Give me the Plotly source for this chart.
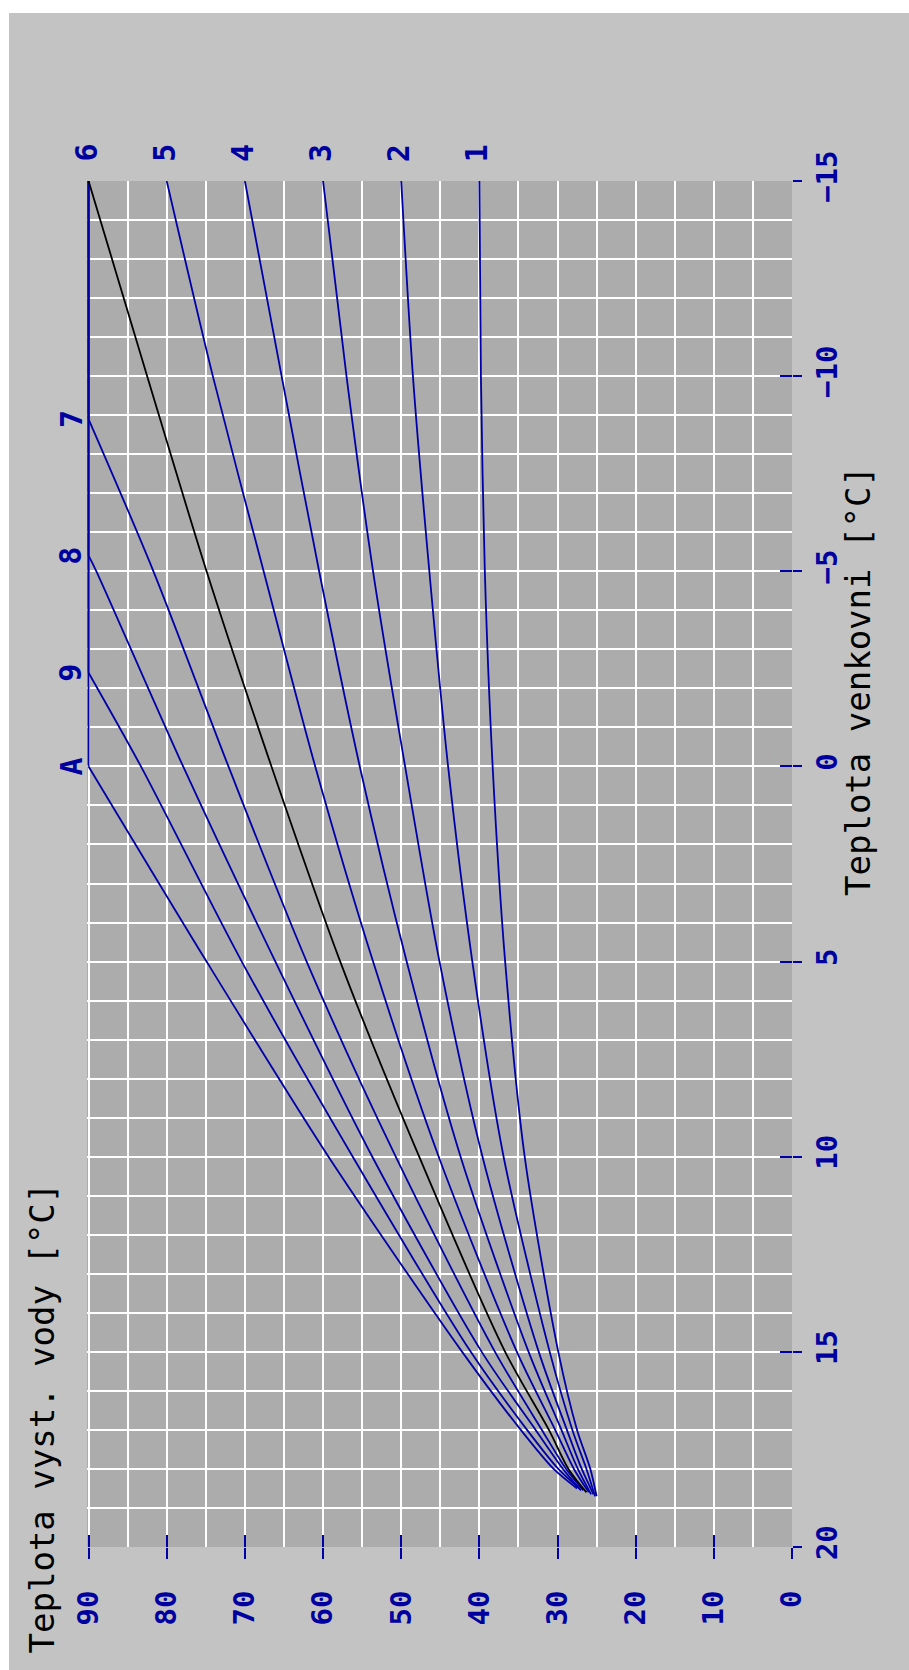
import plotly.graph_objects as go

# ---- data (outdoor temp -> flow water temp) ----
outdoor_c1 = [-15, -10, -5, 0, 5, 10, 15, 17, 18, 18.7]
water_c1 = [40, 39.8, 39.3, 38.3, 36.7, 34.2, 29.9, 27.5, 25.8, 25.0]

outdoor_c2 = [-15, -10, -5, 0, 5, 10, 15, 17, 18, 18.7]
water_c2 = [50, 48.5, 46.4, 44.0, 40.9, 36.9, 31.0, 28.1, 26.3, 25.2]

outdoor_c3 = [-15, -10, -5, 0, 5, 10, 15, 17, 18, 18.65]
water_c3 = [60, 57.0, 53.6, 49.5, 45.1, 39.6, 32.4, 28.8, 26.9, 25.4]

outdoor_c4 = [-15, -10, -5, 0, 5, 10, 15, 17, 18, 18.65]
water_c4 = [70, 65.3, 60.5, 55.3, 49.3, 42.4, 33.7, 29.5, 27.4, 25.7]

outdoor_c5 = [-15, -10, -5, 0, 5, 10, 15, 17, 18, 18.6]
water_c5 = [80, 74.1, 67.6, 61.0, 53.6, 45.2, 35.2, 30.3, 27.9, 26.0]

outdoor_c6 = [-15, -10, -5, 0, 5, 10, 15, 17, 18, 18.6]
water_c6 = [90, 82.5, 74.9, 66.6, 57.8, 47.7, 36.7, 31.1, 28.6, 26.3]

outdoor_c7 = [-15, -8.9, -5, 0, 5, 10, 15, 17, 18, 18.55]
water_c7 = [90, 90, 81.7, 72.1, 62.1, 50.7, 38.0, 32.0, 28.9, 26.7]

outdoor_c8 = [-15, -5.4, -5, 0, 5, 10, 15, 17, 18, 18.55]
water_c8 = [90, 90, 89.0, 77.9, 66.1, 53.7, 39.7, 32.8, 29.3, 27.0]

outdoor_c9 = [-15, -2.4, 0, 5, 10, 15, 17, 18, 18.5]
water_c9 = [90, 90, 83.3, 70.4, 56.2, 41.1, 33.9, 29.9, 27.2]

outdoor_cA = [-15, 0, 5, 10, 15, 17, 18, 18.5]
water_cA = [90, 90, 74.9, 59.3, 42.2, 34.7, 30.5, 27.5]

top_labels = ["6", "5", "4", "3", "2", "1"]
top_label_water = [90, 80, 70, 60, 50, 40]
side_labels = ["7", "8", "9", "A"]
side_label_outdoor = [-8.9, -5.4, -2.4, 0]

water_ticks = [0, 10, 20, 30, 40, 50, 60, 70, 80, 90]
outdoor_ticks = [-15, -10, -5, 0, 5, 10, 15, 20]

title_water = "Teplota vyst. vody [°C]"
title_outdoor = "Teplota venkovni [°C]"

# ---- styling ----
W, H = 909, 1670
ML, MR, MT, MB = 87, 117, 181, 123
PW = W - ML - MR
PH = H - MT - MB


def px_x(px):
    return (px - ML) / PW


def px_y(py):
    return (H - MB - py) / PH


BLUE = "#0000a8"
TXT_BLUE = "#0000a0"
OUTER = "#c3c3c3"
INNER = "#acacac"
MONO = "DejaVu Sans Mono"

fig = go.Figure()

curves = [
    (outdoor_cA, water_cA, BLUE),
    (outdoor_c9, water_c9, BLUE),
    (outdoor_c8, water_c8, BLUE),
    (outdoor_c7, water_c7, BLUE),
    (outdoor_c5, water_c5, BLUE),
    (outdoor_c4, water_c4, BLUE),
    (outdoor_c3, water_c3, BLUE),
    (outdoor_c2, water_c2, BLUE),
    (outdoor_c1, water_c1, BLUE),
    (outdoor_c6, water_c6, "#000000"),
]
for o, w, c in curves:
    # flat (clamped at 90) part drawn straight, sloped part smoothed
    k = 0
    while k + 1 < len(w) and w[k + 1] == w[0]:
        k += 1
    if k > 0:
        fig.add_trace(go.Scatter(x=w[:k + 1], y=o[:k + 1], mode="lines",
                                 line=dict(color=BLUE, width=1.8),
                                 showlegend=False, hoverinfo="skip"))
    fig.add_trace(go.Scatter(x=w[k:], y=o[k:], mode="lines",
                             line=dict(color=c, width=1.8, shape="spline",
                                       smoothing=0.8),
                             showlegend=False, hoverinfo="skip"))

# dummy trace for overlay axes (inside tick halves)
fig.add_trace(go.Scatter(x=[None], y=[None], xaxis="x2", yaxis="y2",
                         showlegend=False, hoverinfo="skip"))

tickfont = dict(family=MONO, size=29, color=TXT_BLUE, weight="bold")

fig.update_layout(
    width=W, height=H,
    margin=dict(l=ML, r=MR, t=MT, b=MB, pad=0),
    paper_bgcolor=OUTER,
    plot_bgcolor=INNER,
    showlegend=False,
    xaxis=dict(
        range=[90.2, 0], tickvals=water_ticks, ticks="outside", ticklen=11,
        tickwidth=2, tickcolor=BLUE, tickangle=-90, tickfont=tickfont,
        ticklabelstandoff=20,
        showgrid=True, gridcolor="white", gridwidth=2,
        minor=dict(dtick=5, tick0=0, showgrid=True, gridcolor="white", gridwidth=2),
        showline=False, zeroline=False, fixedrange=True,
    ),
    yaxis=dict(
        range=[20, -15], tickvals=outdoor_ticks, ticks="outside", ticklen=9,
        tickwidth=2, tickcolor=BLUE, side="right", tickangle=-90,
        tickfont=tickfont, ticklabelstandoff=0,
        showgrid=True, gridcolor="white", gridwidth=2,
        minor=dict(dtick=1, tick0=0, showgrid=True, gridcolor="white", gridwidth=2),
        showline=False, zeroline=False, fixedrange=True,
    ),
    xaxis2=dict(
        range=[90.2, 0], overlaying="x", anchor="y", side="bottom",
        tickvals=water_ticks, ticks="inside", ticklen=12, tickwidth=2,
        tickcolor=BLUE, showticklabels=False, showgrid=False,
        zeroline=False, showline=False, fixedrange=True,
    ),
    yaxis2=dict(
        range=[20, -15], overlaying="y", anchor="x", side="right",
        tickvals=outdoor_ticks, ticks="inside", ticklen=12, tickwidth=2,
        tickcolor=BLUE, showticklabels=False, showgrid=False,
        zeroline=False, showline=False, fixedrange=True,
    ),
)

# white border strips (top and left)
fig.add_shape(type="rect", xref="paper", yref="paper", layer="below",
              x0=px_x(-5), x1=px_x(W + 5), y0=px_y(13), y1=px_y(-5),
              fillcolor="white", line=dict(width=0))
fig.add_shape(type="rect", xref="paper", yref="paper", layer="below",
              x0=px_x(-5), x1=px_x(9), y0=px_y(H + 5), y1=px_y(-5),
              fillcolor="white", line=dict(width=0))

labfont = dict(family=MONO, size=30, color=TXT_BLUE, weight="bold")
for t, w in zip(top_labels, top_label_water):
    fig.add_annotation(text=t, x=w, xref="x", y=px_y(153), yref="paper",
                       xanchor="center", yanchor="middle",
                       textangle=-90, showarrow=False, font=labfont,
                       xshift=-3)
for t, o in zip(side_labels, side_label_outdoor):
    fig.add_annotation(text=t, x=px_x(71), xref="paper", y=o, yref="y",
                       xanchor="center", yanchor="middle",
                       textangle=-90, showarrow=False, font=labfont)

titlefont = dict(family=MONO, size=34, color="#000000")
fig.add_annotation(text=title_water, x=px_x(42), xref="paper",
                   y=px_y(1656), yref="paper", yanchor="bottom",
                   xanchor="center", textangle=-90, showarrow=False,
                   font=titlefont)
fig.add_annotation(text=title_outdoor, x=px_x(858), xref="paper",
                   y=px_y(898), yref="paper", yanchor="bottom",
                   xanchor="center", textangle=-90, showarrow=False,
                   font=titlefont)

fig.write_html("out.html", config={"displayModeBar": False},
               post_script="document.body.style.margin='0px';")
